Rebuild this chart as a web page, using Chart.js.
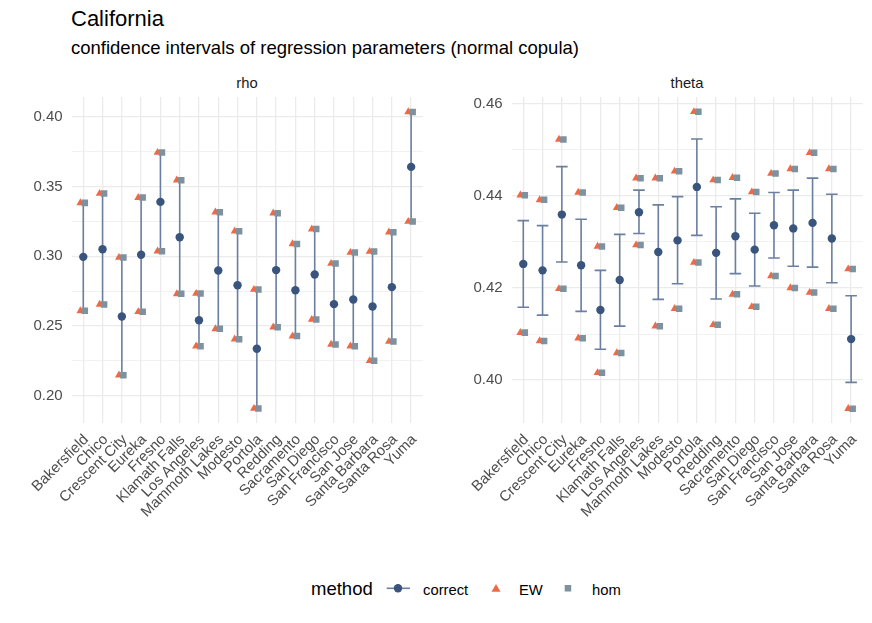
<!DOCTYPE html>
<html>

<head>
    <title>California</title>
    <script src="https://cdn.jsdelivr.net/npm/chart.js@4.4.1/dist/chart.umd.min.js"></script>
    <style>
        body { margin: 0; background: #fff; font-family: "Liberation Sans", Arial, sans-serif; }
        #wrap { position: relative; width: 872px; height: 623px; overflow: hidden; }
        .txt { position: absolute; white-space: nowrap; line-height: 1; }
        canvas { position: absolute; }
    </style>
</head>

<body>
<div id="wrap">
    <div class="txt" style="left:71px; top:8px; font-size:22px; color:#000;">California</div>
    <div class="txt" style="left:71px; top:39px; font-size:18.5px; color:#000;">confidence intervals of regression parameters (normal copula)</div>
    <div class="txt" style="left:247px; top:76px; font-size:14.8px; color:#1a1a1a; transform:translateX(-50%);">rho</div>
    <div class="txt" style="left:687px; top:76px; font-size:14.8px; color:#1a1a1a; transform:translateX(-50%);">theta</div>

    <canvas id="rhoChart" width="440" height="490" style="left:0; top:70px;"></canvas>
    <canvas id="thetaChart" width="432" height="490" style="left:440px; top:70px;"></canvas>

    <!-- legend -->
    <div class="txt" style="left:311px; top:580px; font-size:18.5px; color:#000;">method</div>
    <svg style="position:absolute; left:380px; top:576px;" width="260" height="24">
        <line x1="6.7" y1="12.3" x2="30" y2="12.3" stroke="#6b80a0" stroke-width="1.6"/>
        <circle cx="18" cy="12.3" r="4.2" fill="#3a557d"/>
        <polygon points="116,8 120.5,15.8 111.5,15.8" fill="#ee6a45"/>
        <rect x="184.7" y="9" width="6.5" height="6.5" fill="#7d919e"/>
    </svg>
    <div class="txt" style="left:423px; top:582.5px; font-size:14.8px; color:#000;">correct</div>
    <div class="txt" style="left:519px; top:582.5px; font-size:14.8px; color:#000;">EW</div>
    <div class="txt" style="left:592px; top:582.5px; font-size:14.8px; color:#000;">hom</div>
</div>

<script>
    const cities = ['Bakersfield', 'Chico', 'Crescent City', 'Eureka', 'Fresno', 'Klamath Falls',
        'Los Angeles', 'Mammoth Lakes', 'Modesto', 'Portola', 'Redding', 'Sacramento',
        'San Diego', 'San Francisco', 'San Jose', 'Santa Barbara', 'Santa Rosa', 'Yuma'];

    // rho panel
    const rhoEstimate = [0.2995, 0.3050, 0.2568, 0.3010, 0.3389, 0.3136, 0.2541, 0.2897, 0.2792,
        0.2336, 0.2900, 0.2756, 0.2869, 0.2656, 0.2689, 0.2639, 0.2778, 0.3640];
    const rhoCiLower = [0.2608, 0.2654, 0.2147, 0.2601, 0.3036, 0.2730, 0.2355, 0.2479, 0.2405,
        0.1908, 0.2491, 0.2427, 0.2546, 0.2367, 0.2355, 0.2250, 0.2388, 0.3248];
    const rhoCiUpper = [0.3382, 0.3449, 0.2990, 0.3420, 0.3743, 0.3545, 0.2732, 0.3315, 0.3179,
        0.2761, 0.3308, 0.3088, 0.3194, 0.2947, 0.3026, 0.3033, 0.3172, 0.4034];
    const rhoEwLower = [0.2608, 0.2654, 0.2147, 0.2601, 0.3036, 0.2730, 0.2355, 0.2479, 0.2405,
        0.1908, 0.2491, 0.2427, 0.2546, 0.2367, 0.2355, 0.2250, 0.2388, 0.3248];
    const rhoEwUpper = [0.3382, 0.3449, 0.2990, 0.3420, 0.3743, 0.3545, 0.2732, 0.3315, 0.3179,
        0.2761, 0.3308, 0.3088, 0.3194, 0.2947, 0.3026, 0.3033, 0.3172, 0.4034];
    const rhoHomLower = [0.2608, 0.2654, 0.2147, 0.2601, 0.3036, 0.2730, 0.2355, 0.2479, 0.2405,
        0.1908, 0.2491, 0.2427, 0.2546, 0.2367, 0.2355, 0.2250, 0.2388, 0.3248];
    const rhoHomUpper = [0.3382, 0.3449, 0.2990, 0.3420, 0.3743, 0.3545, 0.2732, 0.3315, 0.3179,
        0.2761, 0.3308, 0.3088, 0.3194, 0.2947, 0.3026, 0.3033, 0.3172, 0.4034];
    const rhoTicks = [0.20, 0.25, 0.30, 0.35, 0.40];

    // theta panel
    const thetaEstimate = [0.4252, 0.4238, 0.4359, 0.4249, 0.4152, 0.4217, 0.4364, 0.4278, 0.4303,
        0.4419, 0.4276, 0.4312, 0.4283, 0.4336, 0.4329, 0.4341, 0.4307, 0.4089];
    const thetaCiLower = [0.4158, 0.4141, 0.4256, 0.4149, 0.4067, 0.4117, 0.4318, 0.4175, 0.4209,
        0.4314, 0.4176, 0.4231, 0.4204, 0.4265, 0.4247, 0.4245, 0.4211, 0.3995];
    const thetaCiUpper = [0.4346, 0.4335, 0.4463, 0.4349, 0.4238, 0.4316, 0.4412, 0.4380, 0.4398,
        0.4523, 0.4376, 0.4393, 0.4362, 0.4407, 0.4412, 0.4438, 0.4403, 0.4183];
    const thetaEwLower = [0.4103, 0.4085, 0.4198, 0.4091, 0.4016, 0.4059, 0.4293, 0.4117, 0.4155,
        0.4255, 0.4120, 0.4186, 0.4159, 0.4226, 0.4200, 0.4190, 0.4155, 0.3938];
    const thetaEwUpper = [0.4401, 0.4391, 0.4522, 0.4407, 0.4290, 0.4374, 0.4438, 0.4438, 0.4453,
        0.4582, 0.4434, 0.4439, 0.4408, 0.4448, 0.4458, 0.4493, 0.4458, 0.4241];
    const thetaHomLower = [0.4103, 0.4085, 0.4198, 0.4091, 0.4016, 0.4059, 0.4293, 0.4117, 0.4155,
        0.4255, 0.4120, 0.4186, 0.4159, 0.4226, 0.4200, 0.4190, 0.4155, 0.3938];
    const thetaHomUpper = [0.4401, 0.4391, 0.4522, 0.4407, 0.4290, 0.4374, 0.4438, 0.4438, 0.4453,
        0.4582, 0.4434, 0.4439, 0.4408, 0.4448, 0.4458, 0.4493, 0.4458, 0.4241];
    const thetaTicks = [0.40, 0.42, 0.44, 0.46];

    const FONT = '"Liberation Sans", Arial, sans-serif';
    const GRID = '#ebebeb';

    function makePanel(id, p) {
        const step = p.ticks[1] - p.ticks[0];
        const isMajor = v => p.ticks.some(t => Math.abs(t - v) < step / 100);

        // errorbar segments, null breaks the line between cities
        const bars = [];
        p.est.forEach((_, i) => {
            bars.push({x: i, y: p.lo[i]}, {x: i, y: p.hi[i]}, {x: i, y: null});
            if (p.cap > 0) {
                bars.push({x: i - p.cap, y: p.hi[i]}, {x: i + p.cap, y: p.hi[i]}, {x: i, y: null});
                bars.push({x: i - p.cap, y: p.lo[i]}, {x: i + p.cap, y: p.lo[i]}, {x: i, y: null});
            }
        });
        const pts = (arr, dx) => arr.map((v, i) => ({x: i + dx, y: v}));

        return new Chart(document.getElementById(id), {
            type: 'scatter',
            data: {
                datasets: [
                    {data: pts(p.homLo, 0.08).concat(pts(p.homHi, 0.08)), pointStyle: 'rect',
                        pointRadius: 4.6, backgroundColor: '#7d919e', borderWidth: 0, order: 1},
                    {data: pts(p.ewLo, -0.15).concat(pts(p.ewHi, -0.15)), pointStyle: 'triangle',
                        pointRadius: 4.6, backgroundColor: '#ee6a45', borderWidth: 0, order: 2},
                    {data: pts(p.est, 0), pointStyle: 'circle', pointRadius: 4.2,
                        backgroundColor: '#3a557d', borderWidth: 0, order: 3},
                    {data: bars, showLine: true, spanGaps: false, pointRadius: 0,
                        borderColor: '#6b80a0', borderWidth: 1.6, order: 4}
                ]
            },
            options: {
                responsive: false,
                animation: false,
                events: [],
                layout: {padding: {top: 27, right: p.padRight, left: 0, bottom: 0}},
                plugins: {legend: {display: false}, tooltip: {enabled: false}},
                scales: {
                    x: {
                        type: 'linear', min: -0.6, max: cities.length - 0.4,
                        afterBuildTicks: s => { s.ticks = cities.map((c, i) => ({value: i})); },
                        afterFit: s => { s.height = 137; },
                        grid: {color: GRID, lineWidth: 1.3, drawTicks: false},
                        border: {display: false},
                        ticks: {
                            autoSkip: false, minRotation: 45, maxRotation: 45, padding: 8, labelOffset: 3,
                            color: '#4d4d4d', font: {family: FONT, size: 14.8},
                            callback: v => cities[v]
                        }
                    },
                    y: {
                        min: p.yMin, max: p.yMax,
                        afterBuildTicks: s => {
                            const t = [];
                            p.ticks.forEach(v => { t.push({value: v}); t.push({value: v + step / 2}); });
                            t.unshift({value: p.ticks[0] - step / 2});
                            s.ticks = t.filter(o => o.value >= p.yMin && o.value <= p.yMax);
                        },
                        afterFit: s => { s.width = 71.7; },
                        grid: {color: GRID, lineWidth: c => isMajor(c.tick.value) ? 1.3 : 0.7, drawTicks: false},
                        border: {display: false},
                        ticks: {
                            autoSkip: false, padding: 9, color: '#4d4d4d', font: {family: FONT, size: 15},
                            callback: v => isMajor(v) ? v.toFixed(2) : ''
                        }
                    }
                }
            }
        });
    }

    makePanel('rhoChart', {
        est: rhoEstimate, lo: rhoCiLower, hi: rhoCiUpper, ewLo: rhoEwLower, ewHi: rhoEwUpper,
        homLo: rhoHomLower, homHi: rhoHomUpper, ticks: rhoTicks, yMin: 0.1804, yMax: 0.4141,
        cap: 0, padRight: 17.3
    });
    makePanel('thetaChart', {
        est: thetaEstimate, lo: thetaCiLower, hi: thetaCiUpper, ewLo: thetaEwLower, ewHi: thetaEwUpper,
        homLo: thetaHomLower, homHi: thetaHomUpper, ticks: thetaTicks, yMin: 0.3907, yMax: 0.4614,
        cap: 0.3, padRight: 9.3
    });
</script>
</body>

</html>
